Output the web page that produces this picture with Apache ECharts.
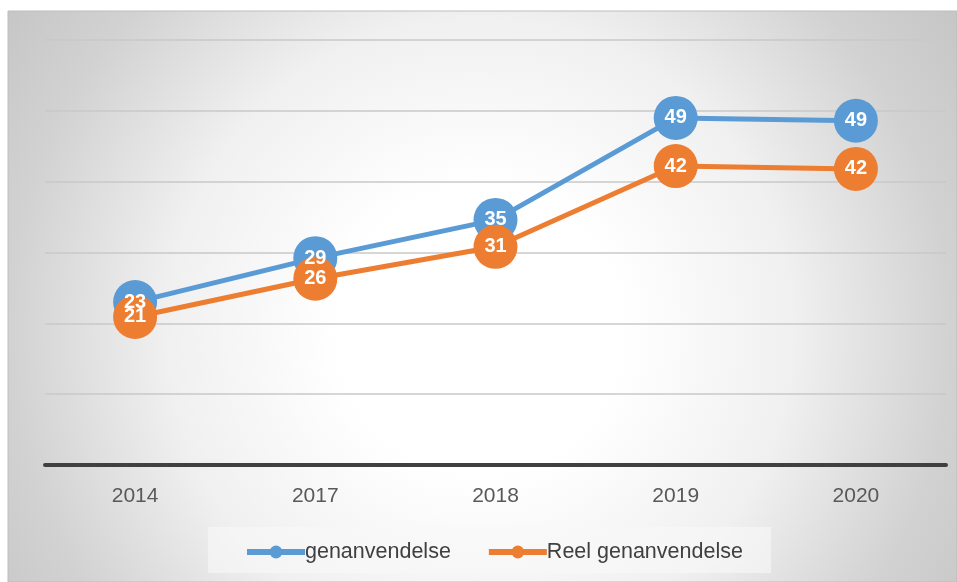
<!DOCTYPE html>
<html>
<head>
<meta charset="utf-8">
<script src="https://cdn.jsdelivr.net/npm/echarts@6/dist/echarts.min.js"></script>
<style>
  html, body { margin: 0; padding: 0; background: #fff; }
  #chart { width: 957px; height: 582px; }
</style>
</head>
<body>
<div id="chart"></div>
<script>
// data
var years = ['2014', '2017', '2018', '2019', '2020'];
var genanvendelse = [23.0, 29.2, 34.6, 49.0, 48.6];
var reelGenanvendelse = [20.9, 26.3, 30.8, 42.2, 41.8];
var seriesNames = ['genanvendelse', 'Reel genanvendelse'];

var blue = '#5B9BD5';
var orange = '#ED7D31';
var font = 'Liberation Sans';

var myChart = echarts.init(document.getElementById('chart'));

function makeSeries(name, data, color) {
    return {
        name: name,
        type: 'line',
        data: data,
        symbol: 'circle',
        symbolSize: 44,
        lineStyle: { color: color, width: 5 },
        itemStyle: { color: color },
        label: {
            show: true,
            position: 'inside',
            color: '#fff',
            fontFamily: font,
            fontWeight: 'bold',
            fontSize: 20,
            formatter: function (p) { return Math.round(p.value); }
        },
        emphasis: { disabled: true },
        animation: false
    };
}

var option = {
    backgroundColor: '#fff',
    graphic: [{
        type: 'rect',
        z: -10,
        shape: { x: 8, y: 11, width: 949, height: 571 },
        style: {
            fill: new echarts.graphic.RadialGradient(0.497, 0.56, 1.0, [
                { offset: 0, color: '#ffffff' },
                { offset: 0.25, color: '#ffffff' },
                { offset: 0.55, color: '#f0f0f0' },
                { offset: 0.82, color: '#d2d2d2' },
                { offset: 1, color: '#c6c6c6' }
            ]),
            stroke: '#bdbdbd',
            lineWidth: 1
        }
    }, {
        type: 'rect',
        z: -5,
        shape: { x: 208, y: 527, width: 563, height: 46 },
        style: { fill: 'rgba(248,248,248,0.6)' }
    }],
    legend: {
        left: 244,
        top: 541,
        padding: 0,
        itemWidth: 58,
        itemHeight: 16,
        itemGap: 35,
        lineStyle: { width: 6 },
        textStyle: { color: '#404040', fontSize: 21.5, fontFamily: font, padding: [0, 0, 0, -5] },
        data: seriesNames
    },
    grid: { left: 45, right: 11, top: 40, bottom: 117 },
    xAxis: {
        type: 'category',
        data: years,
        axisLine: { lineStyle: { color: '#404040', width: 4 } },
        axisTick: { show: false },
        axisLabel: { color: '#595959', fontSize: 21, fontFamily: font, margin: 21 }
    },
    yAxis: {
        type: 'value',
        min: 0,
        max: 60,
        interval: 10,
        axisLabel: { show: false },
        axisLine: { show: false },
        axisTick: { show: false },
        splitLine: { lineStyle: { color: '#c8c8c8', width: 1.5 } }
    },
    series: [
        makeSeries(seriesNames[0], genanvendelse, blue),
        makeSeries(seriesNames[1], reelGenanvendelse, orange)
    ]
};
myChart.setOption(option);
</script>
</body>
</html>
